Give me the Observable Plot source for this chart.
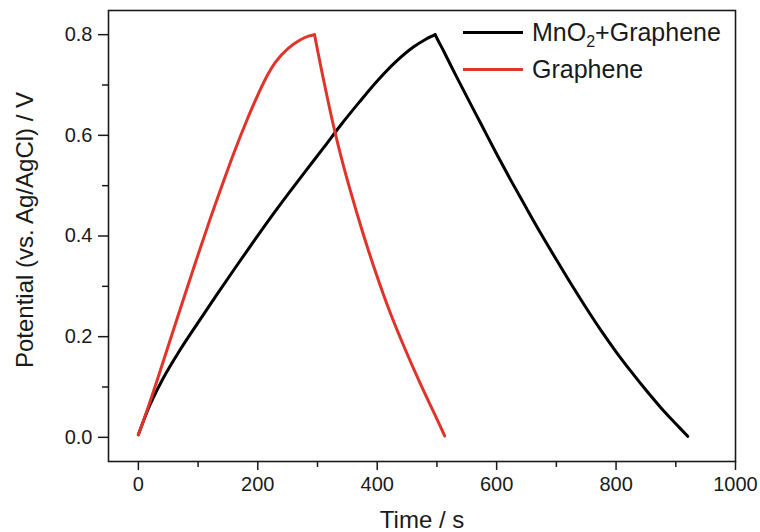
<!DOCTYPE html>
<html>
<head>
<meta charset="utf-8">
<script src="https://cdn.jsdelivr.net/npm/d3@7"></script>
<script src="https://cdn.jsdelivr.net/npm/@observablehq/plot@0.6"></script>
<style>
  html, body { margin: 0; padding: 0; background: #fff; }
  #wrap { position: relative; width: 760px; height: 532px; font-family: "Liberation Sans", Arial, sans-serif; color: #1a1a1a; }
  #legend { position: absolute; left: 463px; top: 14px; }
  .row { display: flex; align-items: center; height: 37px; font-size: 25px; }
  .sw { width: 60px; height: 3px; margin-right: 9px; }
  sub { font-size: 16px; vertical-align: -6px; line-height: 0; }
</style>
</head>
<body>
<div id="wrap"><div id="legend"></div></div>
<script>
// ---- data ----
const seriesNames = ["MnO2+Graphene", "Graphene"];
const seriesColors = ["#000000", "#e0342b"];

// MnO2+Graphene: charge and discharge, time (s) and potential (V)
const mnoChargeTime = [0, 10, 20, 40, 70, 100, 130, 160, 190, 220, 250, 280, 310, 340, 370, 400, 430, 460, 480, 497];
const mnoChargePot  = [0.005, 0.037, 0.066, 0.114, 0.174, 0.228, 0.281, 0.333, 0.384, 0.434, 0.482, 0.529, 0.575, 0.622, 0.666, 0.708, 0.745, 0.775, 0.79, 0.8];
const mnoDischTime  = [497, 503, 511, 530, 550, 575, 600, 625, 650, 675, 700, 725, 750, 775, 800, 825, 850, 875, 900, 920];
const mnoDischPot   = [0.8, 0.786, 0.768, 0.723, 0.677, 0.62, 0.563, 0.508, 0.455, 0.403, 0.353, 0.304, 0.257, 0.212, 0.17, 0.131, 0.094, 0.059, 0.027, 0.002];

// Graphene: charge and discharge, time (s) and potential (V)
const grChargeTime = [0, 15, 30, 60, 90, 120, 140, 160, 180, 200, 215, 230, 250, 270, 285, 295];
const grChargePot  = [0.005, 0.055, 0.108, 0.218, 0.327, 0.433, 0.5, 0.565, 0.625, 0.68, 0.717, 0.746, 0.772, 0.789, 0.797, 0.8];
const grDischTime  = [295, 305, 315, 327, 340, 355, 375, 394, 420, 445, 472, 495, 513];
const grDischPot   = [0.8, 0.74, 0.683, 0.618, 0.555, 0.49, 0.41, 0.34, 0.253, 0.18, 0.107, 0.049, 0.003];

const xMajor = [0, 200, 400, 600, 800, 1000];
const xMinor = [100, 300, 500, 700, 900];
const yMajor = [0.0, 0.2, 0.4, 0.6, 0.8];
const yMinor = [0.1, 0.3, 0.5, 0.7];
const xTitle = "Time / s";
const yTitle = "Potential (vs. Ag/AgCl) / V";

// ---- build tables ----
const seg = (times, pots, series, phase) => times.map((t, i) => ({t, v: pots[i], series, seg: series + phase}));
const data = [
  ...seg(mnoChargeTime, mnoChargePot, seriesNames[0], "c"),
  ...seg(mnoDischTime, mnoDischPot, seriesNames[0], "d"),
  ...seg(grChargeTime, grChargePot, seriesNames[1], "c"),
  ...seg(grDischTime, grDischPot, seriesNames[1], "d")
];

const chart = Plot.plot({
  width: 760,
  height: 532,
  marginLeft: 108,
  marginRight: 25,
  marginTop: 10,
  marginBottom: 71,
  x: {domain: [-50, 1000], label: null},
  y: {domain: [-0.048, 0.848], label: null},
  color: {domain: seriesNames, range: seriesColors},
  style: {fontFamily: "'Liberation Sans', Arial, sans-serif", background: "transparent", color: "#1a1a1a"},
  marks: [
    Plot.axisX(xMajor, {tickSize: 9, tickPadding: 6, fontSize: 20, strokeWidth: 1.5, tickFormat: d => String(d), label: null}),
    Plot.axisX(xMinor, {tickSize: 6, strokeWidth: 1.5, tickFormat: () => "", label: null}),
    Plot.axisY(yMajor, {tickSize: 10, tickPadding: 6, fontSize: 20, strokeWidth: 1.5, tickFormat: d => d.toFixed(1), label: null}),
    Plot.axisY(yMinor, {tickSize: 6, strokeWidth: 1.5, tickFormat: () => "", label: null}),
    Plot.line(data, {x: "t", y: "v", z: "seg", stroke: "series", strokeWidth: 3, curve: "catmull-rom"}),
    Plot.frame({stroke: "#1a1a1a", strokeWidth: 1.6}),
    Plot.text([xTitle], {text: d => d, frameAnchor: "bottom", dy: 59, fontSize: 24, lineAnchor: "middle", textAnchor: "middle"}),
    Plot.text([yTitle], {text: d => d, frameAnchor: "left", dx: -83, dy: -6, rotate: -90, fontSize: 24, lineAnchor: "middle", textAnchor: "middle"})
  ]
});
document.getElementById("wrap").prepend(chart);

// legend overlay
const legend = d3.select("#legend");
seriesNames.forEach((name, i) => {
  const row = legend.append("div").attr("class", "row");
  row.append("div").attr("class", "sw").style("background", seriesColors[i]);
  const label = row.append("span");
  if (name.startsWith("MnO2")) {
    label.html("MnO<sub>2</sub>" + name.slice(4));
  } else {
    label.text(name);
  }
});
</script>
</body>
</html>
